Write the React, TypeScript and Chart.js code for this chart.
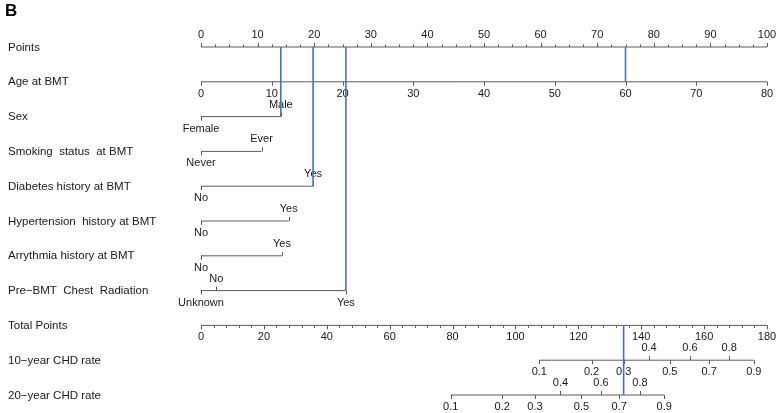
import React, { useEffect, useRef } from "react";
import { Chart, registerables } from "chart.js";
Chart.register(...registerables);

// ---------- data ----------
const panelLetter = "B";
const rowLabels = [
  "Points",
  "Age at BMT",
  "Sex",
  "Smoking  status  at BMT",
  "Diabetes history at BMT",
  "Hypertension  history at BMT",
  "Arrythmia history at BMT",
  "Pre\u2212BMT  Chest  Radiation",
  "Total Points",
  "10\u2212year CHD rate",
  "20\u2212year CHD rate",
];

const pointsMax = 100;
const pointsTicks = [0, 10, 20, 30, 40, 50, 60, 70, 80, 90, 100];
const pointsMinorStep = 2.5;

const ageTicks = [0, 10, 20, 30, 40, 50, 60, 70, 80];
const ageAtMaxPoints = 80;

const sexLevels = ["Female", "Male"];
const sexPoints = [0, 14.1];
const sexSides = ["below", "above"];

const smokingLevels = ["Never", "Ever"];
const smokingPoints = [0, 10.7];
const smokingSides = ["below", "above"];

const diabetesLevels = ["No", "Yes"];
const diabetesPoints = [0, 19.8];
const diabetesSides = ["below", "above"];

const hypertensionLevels = ["No", "Yes"];
const hypertensionPoints = [0, 15.5];
const hypertensionSides = ["below", "above"];

const arrythmiaLevels = ["No", "Yes"];
const arrythmiaPoints = [0, 14.3];
const arrythmiaSides = ["below", "above"];

const chestLevels = ["Unknown", "No", "Yes"];
const chestPoints = [0, 2.7, 25.6];
const chestSides = ["below", "above", "below"];

const totalMax = 180;
const totalTicks = [0, 20, 40, 60, 80, 100, 120, 140, 160, 180];
const totalMinorStep = 4;

const chd10Labels = ["0.1", "0.2", "0.3", "0.4", "0.5", "0.6", "0.7", "0.8", "0.9"];
const chd10Total = [107.6, 124.2, 134.4, 142.5, 149.1, 155.5, 161.6, 168.0, 175.8];
const chd10Sides = ["below", "below", "below", "above", "below", "above", "below", "above", "below"];

const chd20Labels = ["0.1", "0.2", "0.3", "0.4", "0.5", "0.6", "0.7", "0.8", "0.9"];
const chd20Total = [79.4, 95.8, 106.2, 114.3, 121.0, 127.2, 133.0, 139.6, 147.3];
const chd20Sides = ["below", "below", "below", "above", "below", "above", "below", "above", "below"];

// example patient (blue lines): [points, rowFrom, rowTo]
const profilePoints = [14.1, 19.8, 25.6, 75.0];
const profileRows = [2, 4, 7, 1];
const profileTotal = 134.4;

// ---------- helpers ----------
const AXIS_COLOR = "#5a5a5a";
const TEXT_COLOR = "#1a1a1a";
const BLUE = "#4472C4";
const FONT = '"Liberation Sans", Arial, sans-serif';

type Tick = { p: number; label?: string; side: string; major: boolean };
type Axis = { row: number; ticks: Tick[]; from: number; to: number };

function catAxis(row: number, levels: string[], pts: number[], sides: string[]): Axis {
  return {
    row,
    ticks: levels.map((l, i) => ({ p: pts[i], label: l, side: sides[i], major: true })),
    from: Math.min(...pts),
    to: Math.max(...pts),
  };
}

function buildAxes(): Axis[] {
  const axes: Axis[] = [];
  // Points
  const pt: Tick[] = [];
  for (let v = 0; v <= pointsMax + 1e-9; v += pointsMinorStep) {
    const major = pointsTicks.includes(v);
    pt.push({ p: v, label: major ? String(v) : undefined, side: "above", major });
  }
  axes.push({ row: 0, ticks: pt, from: 0, to: pointsMax });
  // Age
  axes.push({
    row: 1,
    ticks: ageTicks.map((a) => ({ p: (a * pointsMax) / ageAtMaxPoints, label: String(a), side: "below", major: true })),
    from: 0,
    to: pointsMax,
  });
  axes.push(catAxis(2, sexLevels, sexPoints, sexSides));
  axes.push(catAxis(3, smokingLevels, smokingPoints, smokingSides));
  axes.push(catAxis(4, diabetesLevels, diabetesPoints, diabetesSides));
  axes.push(catAxis(5, hypertensionLevels, hypertensionPoints, hypertensionSides));
  axes.push(catAxis(6, arrythmiaLevels, arrythmiaPoints, arrythmiaSides));
  axes.push(catAxis(7, chestLevels, chestPoints, chestSides));
  // Total points
  const tt: Tick[] = [];
  for (let v = 0; v <= totalMax + 1e-9; v += totalMinorStep) {
    const major = totalTicks.includes(v);
    tt.push({ p: (v * pointsMax) / totalMax, label: major ? String(v) : undefined, side: "below", major });
  }
  totalTicks.forEach((v) => {
    if (v % totalMinorStep !== 0) tt.push({ p: (v * pointsMax) / totalMax, label: String(v), side: "below", major: true });
  });
  axes.push({ row: 8, ticks: tt, from: 0, to: pointsMax });
  const toP = (t: number) => (t * pointsMax) / totalMax;
  axes.push({
    row: 9,
    ticks: chd10Labels.map((l, i) => ({ p: toP(chd10Total[i]), label: l, side: chd10Sides[i], major: true })),
    from: toP(chd10Total[0]),
    to: toP(chd10Total[chd10Total.length - 1]),
  });
  axes.push({
    row: 10,
    ticks: chd20Labels.map((l, i) => ({ p: toP(chd20Total[i]), label: l, side: chd20Sides[i], major: true })),
    from: toP(chd20Total[0]),
    to: toP(chd20Total[chd20Total.length - 1]),
  });
  return axes;
}

export default function App() {
  const ref = useRef<HTMLCanvasElement | null>(null);

  useEffect(() => {
    const canvas = ref.current;
    if (!canvas) return;
    const axes = buildAxes();

    const datasets: any[] = [];
    axes.forEach((a) => {
      datasets.push({
        data: [
          { x: a.from, y: a.row },
          { x: a.to, y: a.row },
        ],
        showLine: true,
        borderColor: AXIS_COLOR,
        borderWidth: 1,
        pointRadius: 0,
        clip: false,
        order: 2,
      });
    });
    profilePoints.forEach((p, i) => {
      datasets.push({
        data: [
          { x: p, y: 0 },
          { x: p, y: profileRows[i] },
        ],
        showLine: true,
        borderColor: BLUE,
        borderWidth: 1.6,
        pointRadius: 0,
        clip: false,
        order: 1,
      });
    });
    datasets.push({
      data: [
        { x: (profileTotal * pointsMax) / totalMax, y: 8 },
        { x: (profileTotal * pointsMax) / totalMax, y: 10 },
      ],
      showLine: true,
      borderColor: BLUE,
      borderWidth: 1.6,
      pointRadius: 0,
      clip: false,
      order: 1,
    });

    const nomoPlugin = {
      id: "nomoText",
      beforeDatasetsDraw(chart: any) {
        const ctx = chart.ctx as CanvasRenderingContext2D;
        const xs = chart.scales.x;
        const ys = chart.scales.y;
        ctx.save();
        // panel letter
        ctx.fillStyle = "#000";
        ctx.font = `bold 17px ${FONT}`;
        ctx.textAlign = "left";
        ctx.textBaseline = "alphabetic";
        ctx.fillText(panelLetter, 5, 16);
        // row labels
        ctx.font = `11.5px ${FONT}`;
        ctx.fillStyle = TEXT_COLOR;
        ctx.textBaseline = "middle";
        rowLabels.forEach((l, r) => {
          ctx.fillText(l, 8, ys.getPixelForValue(r) + 0.5);
        });
        // ticks and tick labels
        ctx.font = `11px ${FONT}`;
        ctx.textAlign = "center";
        ctx.strokeStyle = AXIS_COLOR;
        ctx.lineWidth = 1;
        axes.forEach((a) => {
          const y = ys.getPixelForValue(a.row);
          a.ticks.forEach((t) => {
            const x = Math.round(xs.getPixelForValue(t.p)) + 0.5;
            const len = t.major ? 4 : 2.5;
            const dir = t.side === "above" ? -1 : 1;
            ctx.beginPath();
            ctx.moveTo(x, y);
            ctx.lineTo(x, y + dir * len);
            ctx.stroke();
            if (t.label !== undefined) {
              ctx.fillText(t.label, xs.getPixelForValue(t.p), y + dir * 12);
            }
          });
        });
        ctx.restore();
      },
    };

    const chart = new Chart(canvas, {
      type: "scatter",
      data: { datasets },
      options: {
        animation: false,
        responsive: false,
        maintainAspectRatio: false,
        layout: { padding: { left: 201, right: 11, top: 47, bottom: 18 } },
        scales: {
          x: { type: "linear", min: 0, max: pointsMax, display: false },
          y: { type: "linear", min: 0, max: 10, reverse: true, display: false },
        },
        plugins: { legend: { display: false }, tooltip: { enabled: false } },
        elements: { point: { radius: 0 } },
      },
      plugins: [nomoPlugin],
    } as any);
    return () => chart.destroy();
  }, []);

  return (
    <div style={{ position: "fixed", left: 0, top: 0, width: 778, height: 413, background: "#fff" }}>
      <canvas ref={ref} width={778} height={413} style={{ display: "block" }} />
    </div>
  );
}
